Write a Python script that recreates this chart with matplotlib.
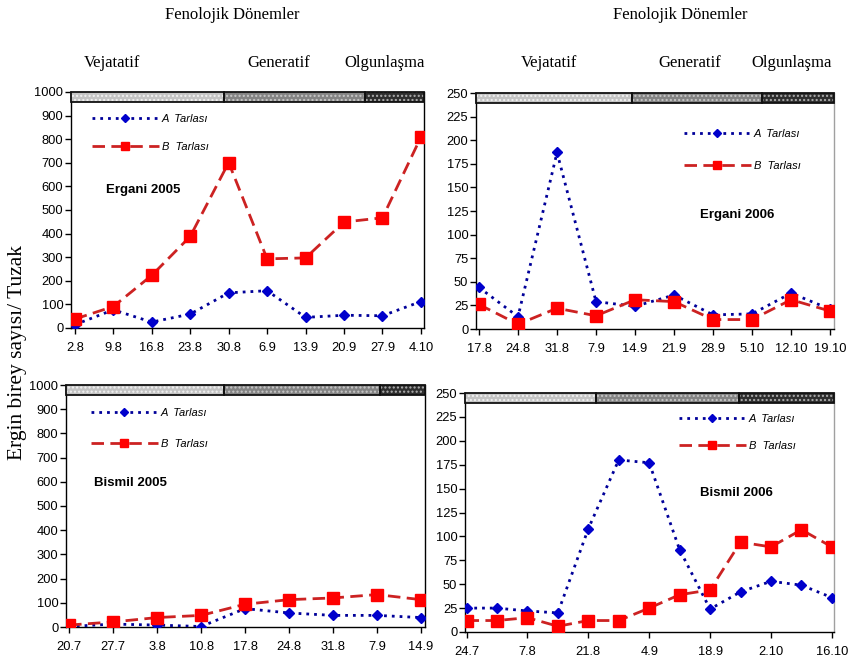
import matplotlib
matplotlib.use('Agg')
import matplotlib.pyplot as plt
from matplotlib import font_manager
from matplotlib.patches import Rectangle
from matplotlib.transforms import blended_transform_factory
import numpy as np

# ---------------- data ----------------
ergani05_dates = ['2.8', '9.8', '16.8', '23.8', '30.8', '6.9', '13.9', '20.9', '27.9', '4.10']
ergani05_A = [14, 77, 25, 59, 149, 158, 45, 54, 52, 112]
ergani05_B = [38, 91, 223, 388, 701, 293, 297, 449, 467, 809]

ergani06_dates = ['17.8', '24.8', '31.8', '7.9', '14.9', '21.9', '28.9', '5.10', '12.10', '19.10']
ergani06_A = [44, 13, 187, 29, 24, 36, 15, 16, 38, 21]
ergani06_B = [26, 5, 22, 14, 31, 29, 10, 10, 31, 19]

bismil05_dates = ['20.7', '27.7', '3.8', '10.8', '17.8', '24.8', '31.8', '7.9', '14.9']
bismil05_A = [2, 12, 8, 2, 76, 58, 48, 48, 39]
bismil05_B = [8, 21, 39, 48, 94, 113, 120, 134, 113]

bismil06_dates = ['24.7', '', '7.8', '', '21.8', '', '4.9', '', '18.9', '', '2.10', '', '16.10']
bismil06_A = [25, 25, 22, 20, 108, 180, 177, 86, 24, 42, 53, 49, 36]
bismil06_B = [12, 12, 15, 6, 12, 12, 25, 39, 44, 94, 89, 107, 89]

# phase boundaries (Vejatatif | Generatif | Olgunlaşma) in point-index units
ergani05_phases = [3.88, 7.55]
ergani06_phases = [3.92, 7.26]
bismil05_phases = [3.52, 7.07]
bismil06_phases = [4.24, 8.95]

phase_names = ['Vejatatif', 'Generatif', 'Olgunlaşma']
series_names = ['A  Tarlası', 'B  Tarlası']

# ---------------- fonts ----------------
names = {f.name for f in font_manager.fontManager.ttflist}
if 'Liberation Sans Narrow' in names:
    NARROW = 'Liberation Sans Narrow'
    tick_fs, lab_fs = 10.5, 11
else:
    NARROW = 'Liberation Sans'
    tick_fs, lab_fs = 9.3, 9.5
SERIF = 'Liberation Serif'

W, H = 848, 668
fig = plt.figure(figsize=(W / 100, H / 100), dpi=100)


def rect(l, r, top, bot):
    return [l / W, 1 - bot / H, (r - l) / W, (bot - top) / H]


def panel(rc, dates, A, B, ymax, ystep, xlim, bounds, label, label_xy,
          leg_anchor, leg_space, right_color):
    ax = fig.add_axes(rc)
    x = np.arange(len(dates))
    ax.plot(x, A, color='#000099', ls=(0, (1, 1.8)), lw=2.0, marker='D', ms=5.6,
            mfc='#0000CC', mec='#0000CC', label=series_names[0], zorder=3)
    ax.plot(x, B, color='#CC2222', ls=(0, (4.5, 2.3)), lw=2.0, marker='s', ms=8.0,
            mfc='#FF0000', mec='#FF0000', label=series_names[1], zorder=4)
    ax.set_xlim(*xlim)
    ax.set_ylim(0, ymax)
    ax.set_yticks(np.arange(0, ymax + 1, ystep))
    tick_pos = [i for i, d in enumerate(dates) if d]
    ax.set_xticks(tick_pos)
    ax.set_xticklabels([dates[i] for i in tick_pos])
    ax.tick_params(axis='both', direction='out', length=4, width=1, color='black',
                   labelsize=tick_fs)
    ax.tick_params(axis='x', pad=6)
    ax.tick_params(axis='y', pad=1.5)
    for t in ax.get_xticklabels() + ax.get_yticklabels():
        t.set_fontfamily(NARROW)
    for s in ['left', 'bottom']:
        ax.spines[s].set_color('black')
        ax.spines[s].set_linewidth(1)
    ax.spines['top'].set_visible(False)
    ax.spines['right'].set_color(right_color)
    ax.spines['right'].set_linewidth(1)

    # phase bar
    trans = blended_transform_factory(ax.transData, ax.transAxes)
    edges = [xlim[0]] + list(bounds) + [xlim[1]]
    faces = ['#C4C4C4', '#848484', '#2E2E2E']
    dots = ['#F2F2F2', '#C8C8C8', '#B0B0B0']
    y0, hh = 0.958, 0.042
    for i in range(3):
        r = Rectangle((edges[i], y0), edges[i + 1] - edges[i], hh, transform=trans,
                      facecolor=faces[i], edgecolor=dots[i], hatch='....', lw=0,
                      clip_on=False, zorder=5)
        ax.add_patch(r)
        o = Rectangle((edges[i], y0), edges[i + 1] - edges[i], hh, transform=trans,
                      fill=False, edgecolor='#111111', lw=1.3, clip_on=False, zorder=6)
        ax.add_patch(o)

    ax.text(label_xy[0], label_xy[1], label, transform=ax.transAxes, ha='center',
            va='center', fontsize=lab_fs, fontweight='bold', family=NARROW)
    ax.legend(loc='upper left', bbox_to_anchor=leg_anchor, frameon=False,
              borderpad=0, borderaxespad=0, handlelength=6.0, handletextpad=0.3,
              labelspacing=leg_space, numpoints=1, markerscale=0.72,
              prop={'family': 'Liberation Sans', 'style': 'italic', 'size': 8})
    return ax


# Ergani 2005
panel(rect(71, 424, 92, 328), ergani05_dates, ergani05_A, ergani05_B, 1000, 100,
      (-0.1, 9.08), ergani05_phases, 'Ergani 2005',
      ((143 - 71) / 353, (328 - 190) / 236), ((92 - 71) / 353, (328 - 114) / 236), 1.6,
      'black')
# Ergani 2006
panel(rect(476, 834, 93, 329), ergani06_dates, ergani06_A, ergani06_B, 250, 25,
      (-0.077, 9.1), ergani06_phases, 'Ergani 2006',
      ((737 - 476) / 358, (329 - 215) / 236), ((684 - 476) / 358, (329 - 129) / 236), 1.95,
      '#A0A0A0')
# Bismil 2005
panel(rect(66, 425, 385, 627), bismil05_dates, bismil05_A, bismil05_B, 1000, 100,
      (-0.07, 8.09), bismil05_phases, 'Bismil 2005',
      ((130 - 66) / 359, (627 - 483) / 242), ((91 - 66) / 359, (627 - 408) / 242), 1.85,
      'black')
# Bismil 2006
panel(rect(465, 834, 393, 632), bismil06_dates, bismil06_A, bismil06_B, 250, 25,
      (-0.05, 12.07), bismil06_phases, 'Bismil 2006',
      ((736 - 465) / 369, (632 - 493) / 239), ((679 - 465) / 369, (632 - 414) / 239), 1.5,
      '#A0A0A0')

# titles and phase names
fig.text(232 / W, 1 - 15 / H, 'Fenolojik Dönemler', ha='center', va='center',
         fontsize=12, family=SERIF)
fig.text(680 / W, 1 - 15 / H, 'Fenolojik Dönemler', ha='center', va='center',
         fontsize=12, family=SERIF)
for xp, n in zip([112, 279, 385], phase_names):
    fig.text(xp / W, 1 - 63 / H, n, ha='center', va='center', fontsize=12, family=SERIF)
for xp, n in zip([549, 690, 792], phase_names):
    fig.text(xp / W, 1 - 63 / H, n, ha='center', va='center', fontsize=12, family=SERIF)
fig.text(18 / W, 1 - 352 / H, 'Ergin birey sayısı/ Tuzak', rotation=90, ha='center',
         va='center', fontsize=15.5, family=SERIF)

fig.savefig('out.png', dpi=100)
